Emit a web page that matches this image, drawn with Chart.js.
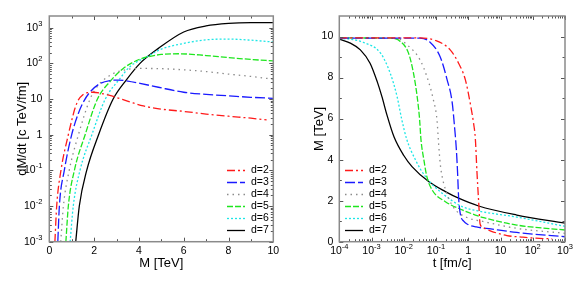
<!DOCTYPE html>
<html>
<head>
<meta charset="utf-8">
<script src="https://cdn.jsdelivr.net/npm/chart.js@4.4.0/dist/chart.umd.min.js"></script>
<style>
  html, body { margin: 0; padding: 0; background: #fff; }
  #wrap { position: relative; width: 581px; height: 292px; }
  #left { position: absolute; left: 0; top: 0; }
  #right { position: absolute; left: 290px; top: 0; }
</style>
</head>
<body>
<div id="wrap">
  <canvas id="left" width="290" height="292"></canvas>
  <canvas id="right" width="291" height="292"></canvas>
</div>
<script>
// Left panel: dM/dt versus M
const massD2 = [0.25, 0.33, 0.52, 0.85, 1.0, 1.15, 1.3, 1.5, 1.7, 1.95, 2.3, 2.7, 3.0, 3.6, 4.2, 4.9, 6.0, 7.0, 8.0, 9.0, 9.7];
const rateD2 = [0.001, 0.01, 0.1, 1, 2.5, 5.6, 9.5, 13.2, 15.1, 15.5, 14.5, 12.6, 11, 8.3, 6.4, 5.3, 4.5, 3.8, 3.3, 2.9, 2.6];
const massD3 = [0.38, 0.45, 0.67, 1.0, 1.3, 1.55, 1.82, 2.26, 2.71, 3.1, 3.5, 4.05, 4.87, 6, 7, 8, 9, 10];
const rateD3 = [0.001, 0.01, 0.1, 1, 4, 8.9, 15.8, 27, 33, 34, 32, 27.5, 21.4, 15.5, 13.5, 12.3, 11.2, 10.5];
const massD4 = [0.51, 0.63, 0.89, 1.3, 1.82, 2.05, 2.34, 2.86, 3.5, 4.2, 5, 6, 7, 8, 9, 10];
const rateD4 = [0.001, 0.01, 0.1, 1, 10, 18.6, 31, 52, 68, 72, 71, 66, 59, 50, 43, 36];
const massD5 = [0.74, 0.85, 1.12, 1.6, 2.15, 2.71, 3.3, 4.05, 4.5, 5, 5.8, 7, 8, 9, 10];
const rateD5 = [0.001, 0.01, 0.1, 1, 10, 31, 72, 132, 158, 178, 186, 166, 145, 129, 117];
const massD6 = [0.93, 1.07, 1.37, 1.9, 2.5, 3.16, 3.6, 4.4, 5, 6, 7, 8, 9, 10];
const rateD6 = [0.001, 0.01, 0.1, 1, 10, 38, 81, 158, 251, 363, 457, 479, 447, 398];
const massD7 = [1.18, 1.34, 1.67, 2.2, 2.85, 3.45, 4.05, 4.87, 6, 7, 8, 9, 10];
const rateD7 = [0.001, 0.01, 0.1, 1, 10, 35, 100, 263, 759, 1122, 1318, 1380, 1380];

// Right panel: M versus t
const timeD2 = [1e-4, 0.0316, 0.1, 0.275, 0.5, 0.81, 1.15, 1.45, 1.66, 1.86, 2.09, 2.34, 3.16, 5, 15.8, 50, 126, 400];
const massT2 = [9.93, 9.93, 9.8, 9.35, 8.7, 7.9, 6.75, 5.8, 5.0, 3.4, 2.0, 0.85, 0.65, 0.52, 0.3, 0.22, 0.17, 0.14];
const timeD3 = [1e-4, 0.0316, 0.063, 0.135, 0.22, 0.316, 0.38, 0.427, 0.468, 0.5, 0.56, 0.72, 1, 1.78, 5, 32, 1000];
const massT3 = [9.92, 9.92, 9.75, 9.0, 7.9, 6.8, 5.5, 4.5, 3.3, 2.2, 1.4, 1.0, 0.83, 0.72, 0.62, 0.45, 0.24];
const timeD4 = [1e-4, 6.3e-3, 0.0126, 0.032, 0.052, 0.083, 0.107, 0.12, 0.135, 0.155, 0.2, 0.245, 0.4, 0.91, 3.0, 32, 1000];
const massT4 = [9.93, 9.9, 9.6, 8.86, 8.05, 6.91, 5.94, 4.8, 3.8, 3.17, 2.5, 2.12, 1.55, 1.18, 0.98, 0.65, 0.41];
const timeD5 = [1e-4, 3.8e-3, 7.8e-3, 0.014, 0.02, 0.026, 0.031, 0.034, 0.042, 0.052, 0.076, 0.195, 0.65, 1.66, 3.0, 32, 1000];
const massT5 = [9.93, 9.92, 9.76, 9.19, 8.21, 7.07, 5.94, 5.0, 3.99, 3.17, 2.52, 1.95, 1.55, 1.3, 1.17, 0.81, 0.57];
const timeD6 = [1e-4, 2.2e-4, 5.6e-4, 1.9e-3, 3.8e-3, 6.2e-3, 8.7e-3, 0.0123, 0.023, 0.047, 0.155, 0.65, 2.0, 32, 1000];
const massT6 = [9.9, 9.87, 9.71, 9.19, 8.21, 7.07, 5.94, 5.0, 3.99, 3.17, 2.36, 1.71, 1.5, 1.2, 0.75];
const timeD7 = [1e-4, 2.2e-4, 4.5e-4, 9e-4, 1.5e-3, 2.1e-3, 3e-3, 5e-3, 0.01, 0.018, 0.059, 0.195, 0.5, 2.1, 32, 1000];
const massT7 = [9.87, 9.68, 9.35, 8.7, 7.8, 7.07, 6.18, 5.1, 4.2, 3.66, 2.93, 2.44, 2.12, 1.74, 1.3, 0.9];

const seriesLabels = ['d=2', 'd=3', 'd=4', 'd=5', 'd=6', 'd=7'];

// tick labels
const leftXTicks = [0, 2, 4, 6, 8, 10];
const leftYExps = [-3, -2, -1, 0, 1, 2, 3];
const rightYTicks = [0, 2, 4, 6, 8, 10];
const rightXExps = [-4, -3, -2, -1, 0, 1, 2, 3];

const FONT = '"Liberation Sans", Arial, Helvetica, sans-serif';
const styles = [
  { color: '#ff1a1a', dash: [8, 3, 2, 3] },
  { color: '#1a1aff', dash: [10, 3] },
  { color: '#8c8c8c', dash: [1.5, 4] },
  { color: '#1ee61e', dash: [6, 2] },
  { color: '#1ee6e6', dash: [2, 2] },
  { color: '#000000', dash: [] }
];

function makeSets(xs, ys) {
  return xs.map((xv, k) => ({
    label: seriesLabels[k],
    data: xv.map((v, i) => ({ x: v, y: ys[k][i] })),
    borderColor: styles[k].color,
    borderDash: styles[k].dash,
    borderWidth: 1.3,
    pointRadius: 0,
    fill: false,
    cubicInterpolationMode: 'monotone'
  }));
}

function powLabel(ctx, exp, x, y, align) {
  let base = exp === 0 ? '1' : '10';
  let sup = (exp === 0 || exp === 1) ? '' : String(exp);
  ctx.font = '10.5px ' + FONT;
  const wb = ctx.measureText(base).width;
  ctx.font = '7.5px ' + FONT;
  const ws = sup ? ctx.measureText(sup).width : 0;
  const total = wb + ws;
  const sx = align === 'center' ? x - total / 2 : x - total;
  ctx.textAlign = 'left';
  ctx.textBaseline = 'middle';
  ctx.font = '10.5px ' + FONT;
  ctx.fillText(base, sx, y);
  if (sup) {
    ctx.font = '7.5px ' + FONT;
    ctx.fillText(sup, sx + wb, y - 4);
  }
}

// frame, inward ticks on all sides, tick labels and the in-plot legend
function decorPlugin(opt) {
  return {
    id: 'decor',
    afterDatasetsDraw(chart) {
      const ctx = chart.ctx, a = chart.chartArea;
      const xs = chart.scales.x, ys = chart.scales.y;
      ctx.save();
      ctx.setLineDash([]);
      ctx.strokeStyle = '#555';
      ctx.lineWidth = 1;
      const tickX = (vals, len) => vals.forEach(v => {
        const p = Math.round(xs.getPixelForValue(v)) + 0.5;
        ctx.beginPath();
        ctx.moveTo(p, a.bottom); ctx.lineTo(p, a.bottom - len);
        ctx.moveTo(p, a.top); ctx.lineTo(p, a.top + len);
        ctx.stroke();
      });
      const tickY = (vals, len) => vals.forEach(v => {
        const p = Math.round(ys.getPixelForValue(v)) + 0.5;
        ctx.beginPath();
        ctx.moveTo(a.left, p); ctx.lineTo(a.left + len, p);
        ctx.moveTo(a.right, p); ctx.lineTo(a.right - len, p);
        ctx.stroke();
      });
      tickX(opt.xMajor, 4); tickX(opt.xMinor, 2.5);
      tickY(opt.yMajor, 4); tickY(opt.yMinor, 2.5);

      ctx.strokeStyle = '#8a8a8a';
      ctx.lineWidth = 1.5;
      ctx.strokeRect(a.left, a.top, a.right - a.left, a.bottom - a.top);

      ctx.fillStyle = '#000';
      opt.xLabels.forEach(l => {
        const p = xs.getPixelForValue(l.v);
        if (l.exp !== undefined) powLabel(ctx, l.exp, p, a.bottom + 9, 'center');
        else {
          ctx.font = '10.5px ' + FONT; ctx.textAlign = 'center'; ctx.textBaseline = 'middle';
          ctx.fillText(l.text, p, a.bottom + 9);
        }
      });
      opt.yLabels.forEach(l => {
        const p = ys.getPixelForValue(l.v);
        if (l.exp !== undefined) powLabel(ctx, l.exp, a.left - 7, p, 'right');
        else {
          ctx.font = '10.5px ' + FONT; ctx.textAlign = 'right'; ctx.textBaseline = 'middle';
          ctx.fillText(l.text, a.left - 6, p);
        }
      });

      // legend
      chart.data.datasets.forEach((ds, k) => {
        const y = opt.legendTop + k * 12;
        ctx.strokeStyle = ds.borderColor;
        ctx.lineWidth = 1.3;
        ctx.setLineDash(ds.borderDash);
        ctx.beginPath();
        ctx.moveTo(opt.legendX, y); ctx.lineTo(opt.legendX + 18, y);
        ctx.stroke();
        ctx.setLineDash([]);
        ctx.fillStyle = '#000';
        ctx.font = '10.5px ' + FONT;
        ctx.textAlign = 'left'; ctx.textBaseline = 'middle';
        ctx.fillText(ds.label, opt.legendX + 24, y);
      });
      ctx.restore();
    }
  };
}

function axisTitle(text, pad) {
  return { display: true, text: text, color: '#000', font: { family: FONT, size: 13 }, padding: pad };
}

// Left chart
const leftMinorY = [];
leftYExps.slice(0, -1).forEach(e => { for (let j = 2; j <= 9; j++) leftMinorY.push(j * Math.pow(10, e)); });
new Chart(document.getElementById('left'), {
  type: 'line',
  data: { datasets: makeSets([massD2, massD3, massD4, massD5, massD6, massD7], [rateD2, rateD3, rateD4, rateD5, rateD6, rateD7]) },
  options: {
    responsive: false,
    animation: false,
    layout: { padding: { left: 0, right: 16.7, top: 16, bottom: 0 } },
    plugins: { legend: { display: false }, tooltip: { enabled: false } },
    scales: {
      x: {
        type: 'linear', min: 0, max: 10,
        grid: { display: false }, border: { display: false }, ticks: { display: false },
        title: axisTitle('M [TeV]', { top: 0, bottom: 21 }),
        afterFit: s => { s.height = 50.3; }
      },
      y: {
        type: 'logarithmic', min: 0.001, max: 2130,
        grid: { display: false }, border: { display: false }, ticks: { display: false },
        title: axisTitle('dM/dt [c TeV/fm]', { top: 15, bottom: 0 }),
        afterFit: s => { s.width = 49.3; }
      }
    }
  },
  plugins: [decorPlugin({
    xMajor: leftXTicks, xMinor: [1, 3, 5, 7, 9],
    yMajor: leftYExps.map(e => Math.pow(10, e)), yMinor: leftMinorY,
    xLabels: leftXTicks.map(v => ({ v: v, text: String(v) })),
    yLabels: leftYExps.map(e => ({ v: Math.pow(10, e), exp: e })),
    legendX: 227, legendTop: 170.5
  })]
});

// Right chart
const rightMinorX = [];
rightXExps.slice(0, -1).forEach(e => { for (let j = 2; j <= 9; j++) rightMinorX.push(j * Math.pow(10, e)); });
new Chart(document.getElementById('right'), {
  type: 'line',
  data: { datasets: makeSets([timeD2, timeD3, timeD4, timeD5, timeD6, timeD7], [massT2, massT3, massT4, massT5, massT6, massT7]) },
  options: {
    responsive: false,
    animation: false,
    layout: { padding: { left: 0, right: 16, top: 16, bottom: 0 } },
    plugins: { legend: { display: false }, tooltip: { enabled: false } },
    scales: {
      x: {
        type: 'logarithmic', min: 1e-4, max: 1000,
        grid: { display: false }, border: { display: false }, ticks: { display: false },
        title: axisTitle('t [fm/c]', { top: 0, bottom: 21 }),
        afterFit: s => { s.height = 50.3; }
      },
      y: {
        type: 'linear', min: 0, max: 11,
        grid: { display: false }, border: { display: false }, ticks: { display: false },
        title: axisTitle('M [TeV]', { top: 22, bottom: 0 }),
        afterFit: s => { s.width = 49.3; }
      }
    }
  },
  plugins: [decorPlugin({
    xMajor: rightXExps.map(e => Math.pow(10, e)), xMinor: rightMinorX,
    yMajor: rightYTicks, yMinor: [1, 3, 5, 7, 9],
    xLabels: rightXExps.map(e => ({ v: Math.pow(10, e), exp: e })),
    yLabels: rightYTicks.map(v => ({ v: v, text: String(v) })),
    legendX: 55, legendTop: 170.5
  })]
});
</script>
</body>
</html>
